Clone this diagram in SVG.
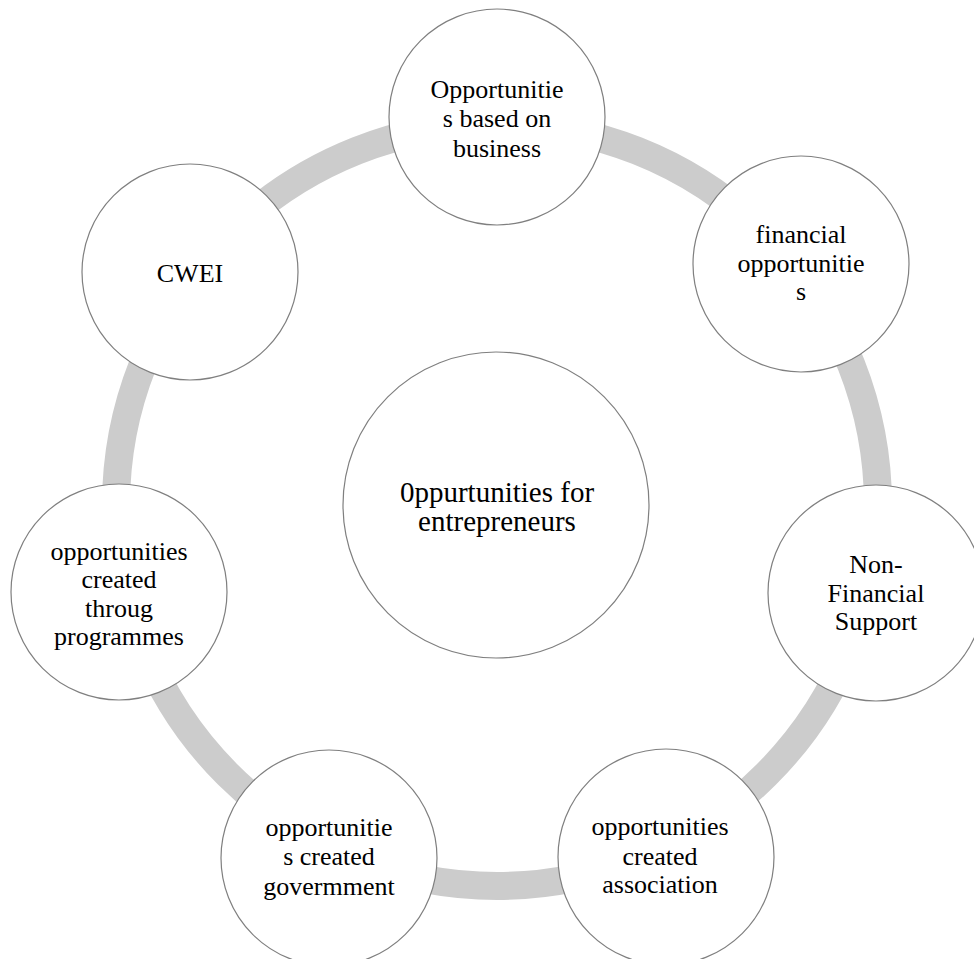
<svg xmlns="http://www.w3.org/2000/svg" width="974" height="959" viewBox="0 0 974 959">
  <style>
    .ring { fill: none; stroke: #cccccc; stroke-width: 28; }
    .node circle { fill: #ffffff; stroke: #7f7f7f; stroke-width: 1.2; }
    .node text { font-family: "Liberation Serif", "Times New Roman", serif; font-size: 26px; fill: #000000; text-anchor: middle; }
    #hub text { font-size: 29px; }
  </style>
  <rect width="974" height="959" fill="#ffffff"/>

  <!-- connecting ring behind the satellites -->
  <g id="connectors">
    <circle class="ring" cx="497" cy="505" r="381"/>
  </g>

  <g id="hub" class="node">
    <circle cx="496" cy="505" r="153"/>
    <text x="497" y="502">0ppurtunities for</text>
    <text x="497" y="531">entrepreneurs</text>
  </g>

  <g id="node-business" class="node">
    <circle cx="497" cy="117" r="108"/>
    <text x="497" y="98">Opportunitie</text>
    <text x="497" y="127">s based on</text>
    <text x="497" y="157">business</text>
  </g>

  <g id="node-financial" class="node">
    <circle cx="801" cy="264" r="108"/>
    <text x="801" y="243">financial</text>
    <text x="801" y="272">opportunitie</text>
    <text x="801" y="300">s</text>
  </g>

  <g id="node-nonfinancial" class="node">
    <circle cx="876" cy="593" r="108"/>
    <text x="876" y="573">Non-</text>
    <text x="876" y="602">Financial</text>
    <text x="876" y="630">Support</text>
  </g>

  <g id="node-association" class="node">
    <circle cx="666" cy="857" r="108"/>
    <text x="660" y="835">opportunities</text>
    <text x="660" y="865">created</text>
    <text x="660" y="893">association</text>
  </g>

  <g id="node-government" class="node">
    <circle cx="329" cy="858" r="108"/>
    <text x="329" y="836">opportunitie</text>
    <text x="329" y="865">s created</text>
    <text x="329" y="895">govermment</text>
  </g>

  <g id="node-programmes" class="node">
    <circle cx="119" cy="592" r="108"/>
    <text x="119" y="560">opportunities</text>
    <text x="119" y="588">created</text>
    <text x="119" y="617">throug</text>
    <text x="119" y="645">programmes</text>
  </g>

  <g id="node-cwei" class="node">
    <circle cx="190" cy="272" r="108"/>
    <text x="190" y="282">CWEI</text>
  </g>
</svg>
